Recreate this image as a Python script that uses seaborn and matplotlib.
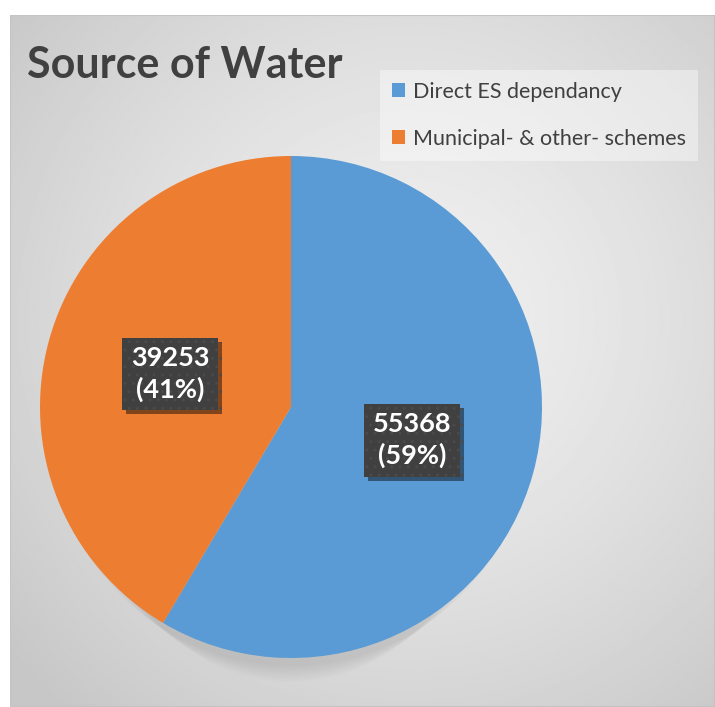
import numpy as np
import matplotlib
matplotlib.use("Agg")
import matplotlib.pyplot as plt
import matplotlib.patheffects as pe
from matplotlib.patches import Patch, Rectangle, Ellipse
import seaborn as sns

# Data
categories = ["Direct ES dependancy", "Municipal- & other- schemes"]
values = [55368, 39253]
title = "Source of Water"

sns.set_theme(style="white")
plt.rcParams["font.family"] = ["Lato", "DejaVu Sans"]
plt.rcParams["hatch.linewidth"] = 1.0

palette = sns.color_palette(["#5b9bd5", "#ed7d31"])

W, H = 715, 707
fig = plt.figure(figsize=(W / 100, H / 100), dpi=100)
fig.patch.set_facecolor("white")

# Chart area with soft radial gradient background
x0, y0 = 10, 15  # chart area top-left in pixels
bg_ax = fig.add_axes([x0 / W, 0, 1 - x0 / W, 1 - y0 / H])
bg_ax.set_axis_off()
gx = np.linspace(x0, W, 400)
gy = np.linspace(y0, H, 400)
XX, YY = np.meshgrid(gx, gy)
cx, cy = 410, 320
rr = np.sqrt((XX - cx) ** 2 + (YY - cy) ** 2) / 520
rr = np.clip(rr, 0, 1)
shade = 0.94 - 0.16 * rr ** 1.4
bg_ax.imshow(shade, cmap="gray", vmin=0, vmax=1, extent=[0, 1, 0, 1],
             aspect="auto", interpolation="bilinear", origin="upper")
bg_ax.add_patch(Rectangle((0, 0), 1, 1, transform=bg_ax.transAxes, fill=False,
                          edgecolor="#c4c4c4", linewidth=1.5))
bg_ax.set_xlim(0, 1)
bg_ax.set_ylim(0, 1)

# Pie
pcx, pcy, R = 291, 407, 251
ax = fig.add_axes([(pcx - R) / W, (H - pcy - R) / H, 2 * R / W, 2 * R / H])
ax.set_axis_off()

# soft drop shadow beneath the pie
for k in range(12):
    sh = Ellipse((0, -0.03 - 0.006 * k), 2.0 * (0.98 - 0.014 * k), 2.0,
                 color="black", alpha=0.009, linewidth=0, zorder=0,
                 clip_on=False)
    ax.add_patch(sh)

total = sum(values)
wedges, texts, autotexts = ax.pie(
    values, colors=palette, startangle=90, counterclock=False,
    radius=1.0, pctdistance=0.5,
    autopct=lambda p: f"{int(round(p * total / 100))}\n({p:.0f}%)",
    wedgeprops=dict(linewidth=0),
    textprops=dict(color="white", fontsize=19.5, fontweight="bold",
                   linespacing=1.3),
)
for w in wedges:
    w.set_zorder(2)
for t in autotexts:
    t.set_zorder(5)
    t.set_bbox(dict(boxstyle="square,pad=0.32", facecolor="#404040",
                    edgecolor="#4a4a4a", linewidth=0, hatch=".."))
    t.get_bbox_patch().set_path_effects(
        [pe.SimplePatchShadow(offset=(3, -3), shadow_rgbFace="black", alpha=0.45),
         pe.Normal()])
ax.set_xlim(-1, 1)
ax.set_ylim(-1, 1)

# Title
fig.text(27 / W, 1 - 78 / H, title, fontsize=31, fontweight="bold",
         color="#404040", ha="left", va="baseline")

# Legend
handles = [Patch(facecolor=c, edgecolor="none") for c in palette]
leg = fig.legend(handles, categories, loc="upper left",
                 bbox_to_anchor=(380 / W, 1 - 70 / H),
                 fontsize=15.5, frameon=True, fancybox=False,
                 handlelength=0.6, handleheight=0.6, handletextpad=0.4,
                 labelspacing=1.25, borderpad=0.55, borderaxespad=0)
leg.get_frame().set_facecolor("white")
leg.get_frame().set_alpha(0.4)
leg.get_frame().set_edgecolor("none")
for txt in leg.get_texts():
    txt.set_color("#404040")

fig.savefig("out.png", dpi=100)
